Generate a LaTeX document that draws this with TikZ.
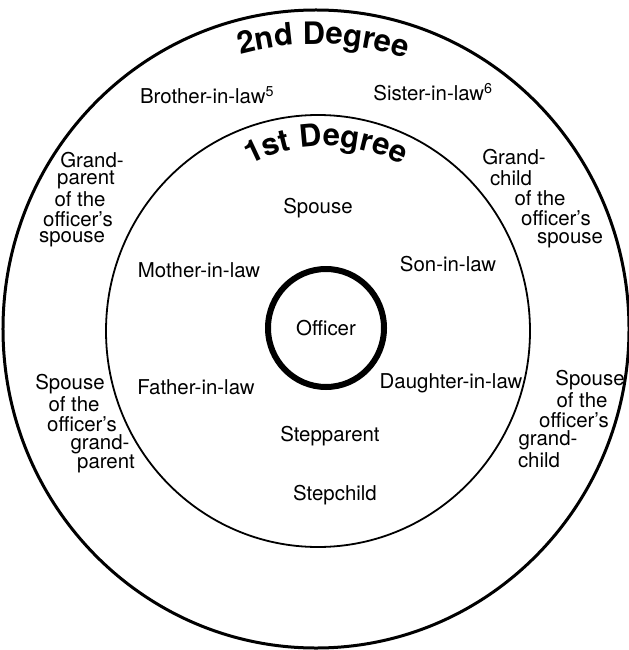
\documentclass[tikz,border=0pt]{standalone}
\usepackage{fontspec}
\setmainfont{TeX Gyre Heros}
\usetikzlibrary{shapes.geometric,decorations.text}
\begin{document}
\begin{tikzpicture}[x=1bp,y=1bp,
  lbl/.style={inner sep=0pt,font=\fontsize{20.5}{22}\selectfont},
  ring/.style={draw,ellipse,inner sep=0pt}]
\useasboundingbox (0,0) rectangle (629,-650);
% rings
\node[ring,line width=3bp,minimum width=626bp,minimum height=638bp] (outer) at (316,-329) {};
\node[ring,line width=1.8bp,minimum width=424bp,minimum height=432bp] (inner) at (318,-331) {};
\node[ring,line width=6bp,minimum width=116bp,minimum height=118bp,font=\fontsize{20.5}{22}\selectfont] (officer) at (326,-328) {Officer};
\coordinate (oc) at (316,-329);
\coordinate (tc) at (326,-306);
% arched titles
\path[decorate,decoration={text along path,text align=center,
  text={|\bfseries\fontsize{31}{32}\selectfont|2nd Degree}}]
  ([shift={(oc)}]148.5:285) arc[start angle=148.5,end angle=28.5,radius=285];
\path[decorate,decoration={text along path,text align=center,
  text={|\bfseries\fontsize{31}{32}\selectfont|1st Degree}}]
  ([shift={(tc)}]150:160) arc[start angle=150,end angle=30,radius=160];
% second degree
\node[lbl] (bil) at (207,-95) {Brother-in-law\textsuperscript{5}};
\node[lbl] (sil) at (433,-92) {Sister-in-law\textsuperscript{6}};
\node[lbl] (gpa) at (92,-160) {Grand-};
\node[lbl] (gpb) at (86,-180) {parent};
\node[lbl] (gpc) at (80,-199) {of the};
\node[lbl] (gpd) at (78,-219) {officer's};
\node[lbl] (gpe) at (72,-239) {spouse};
\node[lbl] (gca) at (514,-157) {Grand-};
\node[lbl] (gcb) at (511,-178) {child};
\node[lbl] (gcc) at (540,-198) {of the};
\node[lbl] (gcd) at (556,-218) {officer's};
\node[lbl] (gce) at (570,-240) {spouse};
\node[lbl] (sga) at (70,-384) {Spouse};
\node[lbl] (sgb) at (74,-404) {of the};
\node[lbl] (sgc) at (82,-424) {officer's};
\node[lbl] (sgd) at (100,-444) {grand-};
\node[lbl] (sge) at (106,-464) {parent};
\node[lbl] (sca) at (590,-380) {Spouse};
\node[lbl] (scb) at (582,-400) {of the};
\node[lbl] (scc) at (574,-420) {officer's};
\node[lbl] (scd) at (548,-440) {grand-};
\node[lbl] (sce) at (539,-460) {child};
% first degree
\node[lbl] (sp) at (318,-208) {Spouse};
\node[lbl] (mil) at (199,-270) {Mother-in-law};
\node[lbl] (sonil) at (448,-264) {Son-in-law};
\node[lbl] (fil) at (196,-387) {Father-in-law};
\node[lbl] (dil) at (451,-383) {Daughter-in-law};
\node[lbl] (stp) at (330,-436) {Stepparent};
\node[lbl] (stc) at (335,-495) {Stepchild};
\end{tikzpicture}
\end{document}
